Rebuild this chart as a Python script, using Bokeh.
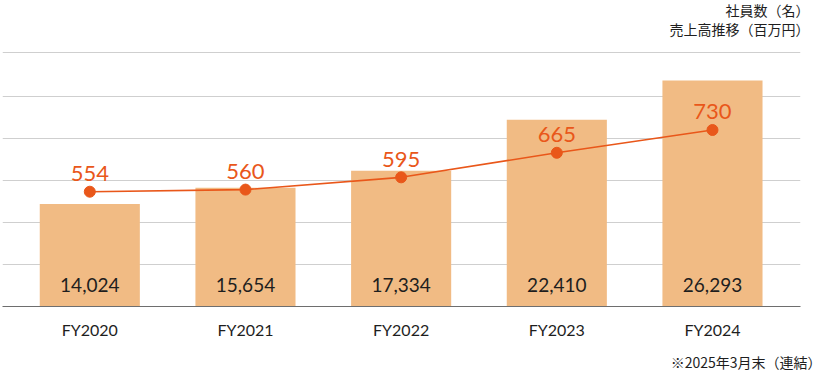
from bokeh.plotting import figure
from bokeh.models import (ColumnDataSource, Range1d, LinearAxis, FixedTicker, Title)
from bokeh.core.properties import value
from bokeh.embed import file_html
from bokeh.resources import INLINE

# ---- data ----
categories = ["FY2020", "FY2021", "FY2022", "FY2023", "FY2024"]
revenue = [14024, 15654, 17334, 22410, 26293]          # 売上高（百万円）
employees = [554, 560, 595, 665, 730]                   # 社員数（名）
revenue_labels = ["14,024", "15,654", "17,334", "22,410", "26,293"]
employee_labels = ["554", "560", "595", "665", "730"]
header_lines = ["社員数（名）", "売上高推移（百万円）"]
footnote = "※2025年3月末（連結）"

BAR = "#F1BB84"
ORANGE = "#E9571A"
TEXT = "#1E1E1E"

xs = list(range(len(categories)))
src = ColumnDataSource(dict(x=xs, rev=revenue, emp=employees,
                            rlab=revenue_labels, elab=employee_labels))

rev_start, rev_end = 3856, 29178
emp_start, emp_end = 226.7, 953.8

p = figure(width=821, height=381, output_backend="svg", toolbar_location=None, title=None,
           x_range=Range1d(-0.5608, 4.5654), y_range=Range1d(rev_start, rev_end),
           x_axis_location=None, y_axis_location=None,
           min_border_left=2, min_border_right=21, min_border_top=51, min_border_bottom=75)
p.extra_y_ranges = {"emp": Range1d(emp_start, emp_end)}
p.outline_line_color = None
p.background_fill_color = "white"
p.border_fill_color = "white"

# grid lines every 42px, plus a top line
step = (rev_end - rev_start) * 42 / 255
grid_ticks = [rev_start + step * k for k in range(1, 6)] + [rev_end - (rev_end - rev_start) * 0.5 / 255]
p.xgrid.visible = False
p.ygrid.ticker = FixedTicker(ticks=grid_ticks)
p.ygrid.grid_line_color = "#CFCFCF"
p.ygrid.grid_line_width = 1

# x axis
xaxis = LinearAxis(ticker=FixedTicker(ticks=xs),
                   major_label_overrides={i: c for i, c in zip(xs, categories)})
xaxis.axis_line_color = "#6E6E6E"
xaxis.axis_line_width = 1.2
xaxis.major_tick_line_color = None
xaxis.minor_tick_line_color = None
xaxis.major_label_standoff = 7
xaxis.major_label_text_font = "Lato"
xaxis.major_label_text_font_size = "16px"
xaxis.major_label_text_color = TEXT
p.add_layout(xaxis, "below")

# bars
p.vbar(x="x", top="rev", bottom=rev_start, width=0.643, source=src,
       fill_color=BAR, line_color=None)
p.text(x="x", y=rev_start, text="rlab", source=src, y_offset=-22,
       text_align="center", text_baseline="alphabetic",
       text_font=value("Lato"), text_font_size="19px", text_color=TEXT)

# employee line
p.line(x="x", y="emp", source=src, y_range_name="emp", line_color=ORANGE, line_width=1.6)
p.scatter(x="x", y="emp", source=src, y_range_name="emp", size=11,
          fill_color=ORANGE, line_color=ORANGE)
p.text(x="x", y="emp", text="elab", source=src, y_range_name="emp", y_offset=-18,
       text_align="center", text_baseline="alphabetic",
       text_font=value("Lato"), text_font_size="22px", text_color=ORANGE)

# header (above, closest to frame first) and footnote (below the axis)
for txt, so in zip(reversed(header_lines), [25, -31]):
    p.add_layout(Title(text=txt, align="right", offset=-9, standoff=so,
                       text_font="Noto Sans CJK JP", text_font_size="14px",
                       text_font_style="normal", text_color=TEXT), "above")
p.add_layout(Title(text=footnote, align="right", offset=-21, standoff=17,
                   text_font="Noto Sans CJK JP", text_font_size="14px",
                   text_font_style="normal", text_color=TEXT), "below")

open("out.html", "w").write(file_html(p, INLINE))
